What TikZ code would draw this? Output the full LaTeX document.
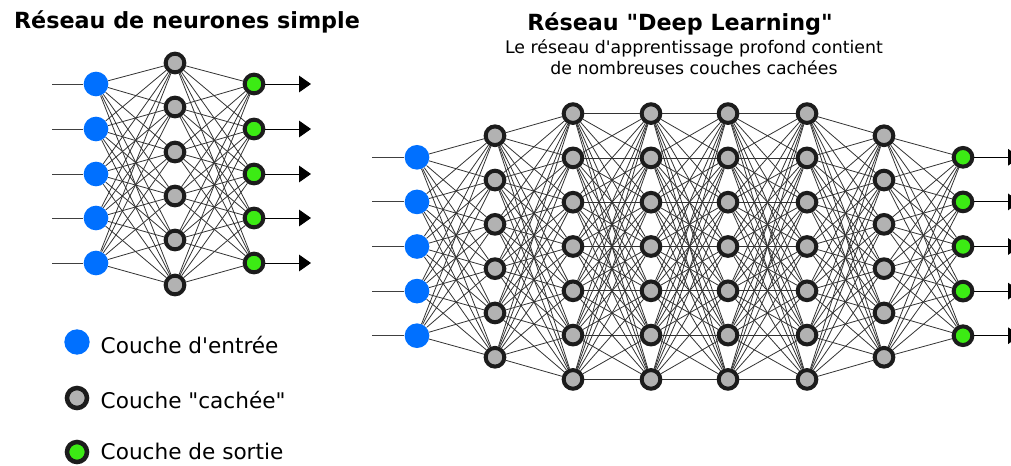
\documentclass[tikz,border=0pt]{standalone}
\usepackage{fontspec}
\setmainfont{DejaVu Sans}
\usetikzlibrary{arrows.meta}
\definecolor{inblue}{RGB}{0,112,255}
\definecolor{outgreen}{RGB}{60,235,20}
\definecolor{hidgray}{RGB}{178,178,178}
\definecolor{rim}{RGB}{28,28,28}
\newcommand{\dq}{\textquotedbl}
\newcommand{\sq}{\textquotesingle}
\tikzset{
  innode/.style={circle,fill=inblue,inner sep=0pt,minimum size=18.5pt},
  hidnode/.style={circle,draw=rim,line width=3pt,fill=hidgray,inner sep=0pt,minimum size=14pt},
  outnode/.style={hidnode,fill=outgreen},
  link/.style={black!80,line width=0.6pt},
  feed/.style={black!75,line width=0.7pt},
  outarrow/.style={black,line width=0.7pt,-{Triangle[length=9pt,width=12.5pt]}},
  titletext/.style={font=\bfseries\fontsize{16.7}{20}\selectfont},
  subtext/.style={font=\fontsize{13}{15.8}\selectfont,align=center},
  legtext/.style={font=\fontsize{16.2}{19}\selectfont,anchor=west}
}
\begin{document}
\begin{tikzpicture}[x=0.75pt,y=-0.75pt]
    \useasboundingbox (0,0) rectangle (1011,465);
    \clip (0,0) rectangle (1011,465);
    \fill[white] (0,0) rectangle (1011,465);

    \node[titletext] (t1) at (187,22) {Réseau de neurones simple};
    \node[titletext] (t2) at (680,24) {Réseau \dq Deep Learning\dq};
    \node[subtext] (t3) at (694,57) {Le réseau d\sq apprentissage profond contient\\de nombreuses couches cachées};

    \foreach \i/\y in {1/84,2/129,3/174,4/218,5/263} {
        \node[innode] (a\i) at (96,\y) {};
        \node[outnode] (c\i) at (254,\y) {};
        \coordinate (ai\i) at (52,\y);
        \coordinate (co\i) at (311,\y);
    }
    \foreach \j/\y in {1/63,2/107,3/152,4/196,5/240,6/285}
        \node[hidnode] (b\j) at (175,\y) {};
    \foreach \i in {1,...,5} {
        \draw[feed] (ai\i) -- (a\i);
        \draw[outarrow] (c\i) -- (co\i);
        \foreach \j in {1,...,6} {
            \draw[link] (a\i) -- (b\j);
            \draw[link] (b\j) -- (c\i);
        }
    }

    \foreach \l/\x/\n in {1/495/6,2/573/7,3/651/7,4/728/7,5/807/7,6/884/6}
        \foreach \k in {1,...,\n}
            \node[hidnode] (d\l-\k) at (\x,{246.5+(\k-(\n+1)/2)*44.3}) {};
    \foreach \k in {1,...,5} {
        \node[innode] (d0-\k) at (417,{246.5+(\k-3)*44.6}) {};
        \node[outnode] (d7-\k) at (963,{246.5+(\k-3)*44.6}) {};
        \coordinate (di\k) at (372,{246.5+(\k-3)*44.6});
        \coordinate (do\k) at (1020,{246.5+(\k-3)*44.6});
        \draw[feed] (di\k) -- (d0-\k);
        \draw[outarrow] (d7-\k) -- (do\k);
    }
    \foreach \l/\nl/\m/\nm in {0/5/1/6,1/6/2/7,2/7/3/7,3/7/4/7,4/7/5/7,5/7/6/6,6/6/7/5}
        \foreach \p in {1,...,\nl}
            \foreach \q in {1,...,\nm}
                \draw[link] (d\l-\p) -- (d\m-\q);

    \node[innode,minimum size=19pt] (k1) at (77,342) {};
    \node[hidnode,minimum size=15pt,line width=3.4pt] (k2) at (77,398) {};
    \node[outnode,minimum size=15pt,line width=3.4pt] (k3) at (77,452) {};
    \node[legtext] (l1) at (96,345) {Couche d\sq entrée};
    \node[legtext] (l2) at (96,400) {Couche \dq cachée\dq};
    \node[legtext] (l3) at (96,451) {Couche de sortie};
\end{tikzpicture}
\end{document}
